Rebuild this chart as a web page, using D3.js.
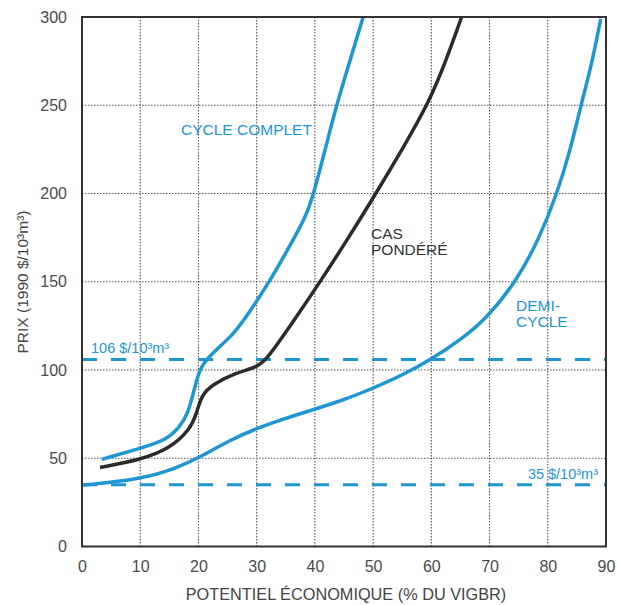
<!DOCTYPE html>
<html>
<head>
<meta charset="utf-8">
<script src="https://cdn.jsdelivr.net/npm/d3@7"></script>
<style>
  body { margin: 0; background: #fff; }
  svg { display: block; font-family: "Liberation Sans", Arial, sans-serif; }
</style>
</head>
<body>
<svg id="chart" width="618" height="605"></svg>
<script>
// Potentiel économique (% du VIGBR) vs. prix (1990 $/10³m³)
const xTicks = [0, 10, 20, 30, 40, 50, 60, 70, 80, 90];
const yTicks = [0, 50, 100, 150, 200, 250, 300];

const cycleCompletX = [3.4, 10, 14.5, 16.8, 18.2, 19.1, 19.7, 20.3, 22, 26, 28.2, 32.2, 35.3, 38.5, 39.8, 41.7, 43.7, 46, 48.3];
const cycleCompletY = [49.4, 55.6, 60.3, 67.8, 75.4, 86.7, 94.2, 101, 108.5, 120, 130, 150, 168, 187, 200, 224, 250, 275, 300];

const casPondereX = [3.1, 10, 15.1, 18.5, 19.7, 20.5, 22.5, 26.5, 30, 31.7, 34.5, 36.6, 40.9, 45.6, 50.3, 55, 59.5, 62.5, 65.2];
const casPondereY = [44.8, 49, 55.6, 66, 75.4, 85.8, 92, 98.5, 101.5, 106, 119, 129, 150, 174, 199, 225, 251, 275, 300];

const demiCycleX = [0.2, 10, 16.2, 20.2, 25.4, 30, 34, 38.5, 45, 50, 55, 60, 65, 69.4, 74.6, 78.6, 81.6, 83.9, 85.7, 87.6, 89.1];
const demiCycleY = [34.8, 38, 44.3, 50.5, 60.3, 66.9, 71.6, 76.3, 83, 89.7, 97, 106, 117, 129, 150, 175, 200, 225, 250, 274, 299];

const refPrices = [106, 35];
const refLabels = ["106 $/10³m³", "35 $/10³m³"];

const blue = "#1e96d2";
const dark = "#2b2b2b";

const svg = d3.select("#chart");
const mLeft = 82, mRight = 606, mTop = 17, mBottom = 546.5;

const x = d3.scaleLinear().domain([0, 90]).range([mLeft, mRight]);
const y = d3.scaleLinear().domain([0, 300]).range([mBottom, mTop]);

// grid
const grid = svg.append("g").attr("stroke", "#555").attr("stroke-width", 1.1)
  .attr("stroke-dasharray", "1.5,1.5");
grid.selectAll(".gx").data(xTicks.slice(1, -1)).join("line")
  .attr("x1", d => x(d)).attr("x2", d => x(d)).attr("y1", mTop).attr("y2", mBottom);
grid.selectAll(".gy").data(yTicks.slice(1, -1)).join("line")
  .attr("y1", d => y(d)).attr("y2", d => y(d)).attr("x1", mLeft).attr("x2", mRight);

// tick labels
const xAxis = d3.axisBottom(x).tickValues(xTicks).tickSize(0).tickPadding(14);
svg.append("g").attr("transform", `translate(0,${mBottom})`).call(xAxis)
  .call(g => g.select(".domain").remove())
  .selectAll("text").attr("font-size", 16).attr("fill", "#4a4a4a")
  .attr("font-family", "Liberation Sans, Arial, sans-serif");

const yAxis = d3.axisLeft(y).tickValues(yTicks).tickSize(0).tickPadding(15);
svg.append("g").attr("transform", `translate(${mLeft},0)`).call(yAxis)
  .call(g => g.select(".domain").remove())
  .selectAll("text").attr("font-size", 16).attr("fill", "#4a4a4a")
  .attr("font-family", "Liberation Sans, Arial, sans-serif");

// reference price lines
svg.selectAll(".ref").data(refPrices).join("line")
  .attr("x1", mLeft).attr("x2", mRight)
  .attr("y1", d => y(d)).attr("y2", d => y(d))
  .attr("stroke", blue).attr("stroke-width", 3)
  .attr("stroke-dasharray", "15,14");

// curves
svg.append("clipPath").attr("id", "plot")
  .append("rect").attr("x", mLeft).attr("y", mTop)
  .attr("width", mRight - mLeft).attr("height", mBottom - mTop);

const line = d3.line().x(d => x(d[0])).y(d => y(d[1])).curve(d3.curveBasis);
const series = [
  { xs: demiCycleX, ys: demiCycleY, color: blue },
  { xs: cycleCompletX, ys: cycleCompletY, color: blue },
  { xs: casPondereX, ys: casPondereY, color: dark }
];
svg.append("g").attr("clip-path", "url(#plot)")
  .selectAll("path").data(series).join("path")
  .attr("d", s => line(d3.zip(s.xs, s.ys)))
  .attr("fill", "none").attr("stroke", s => s.color)
  .attr("stroke-width", 3.5).attr("stroke-linecap", "butt");

// frame
svg.append("rect").attr("x", mLeft).attr("y", mTop)
  .attr("width", mRight - mLeft).attr("height", mBottom - mTop)
  .attr("fill", "none").attr("stroke", "#333").attr("stroke-width", 2);

// series labels
const lab = (tx, ty, t, c) => svg.append("text").attr("x", tx).attr("y", ty)
  .attr("font-size", 15.5).attr("fill", c).text(t);
lab(181, 135, "CYCLE COMPLET", blue);
lab(371, 239, "CAS", "#333");
lab(371, 255, "PONDÉRÉ", "#333");
lab(516, 311, "DEMI-", blue);
lab(516, 327, "CYCLE", blue);

// reference labels
svg.append("text").attr("x", 91).attr("y", y(refPrices[0]) - 6)
  .attr("font-size", 14.5).attr("fill", blue).text(refLabels[0]);
svg.append("text").attr("x", 598).attr("y", y(refPrices[1]) - 5.5)
  .attr("text-anchor", "end").attr("font-size", 14.5).attr("fill", blue).text(refLabels[1]);

// axis titles
svg.append("text").attr("x", 346).attr("y", 600)
  .attr("text-anchor", "middle").attr("font-size", 16.3).attr("fill", "#444")
  .text("POTENTIEL ÉCONOMIQUE (% DU VIGBR)");
svg.append("text").attr("transform", "translate(28,282) rotate(-90)")
  .attr("text-anchor", "middle").attr("font-size", 15.5).attr("fill", "#444")
  .text("PRIX (1990 $/10³m³)");
</script>
</body>
</html>
